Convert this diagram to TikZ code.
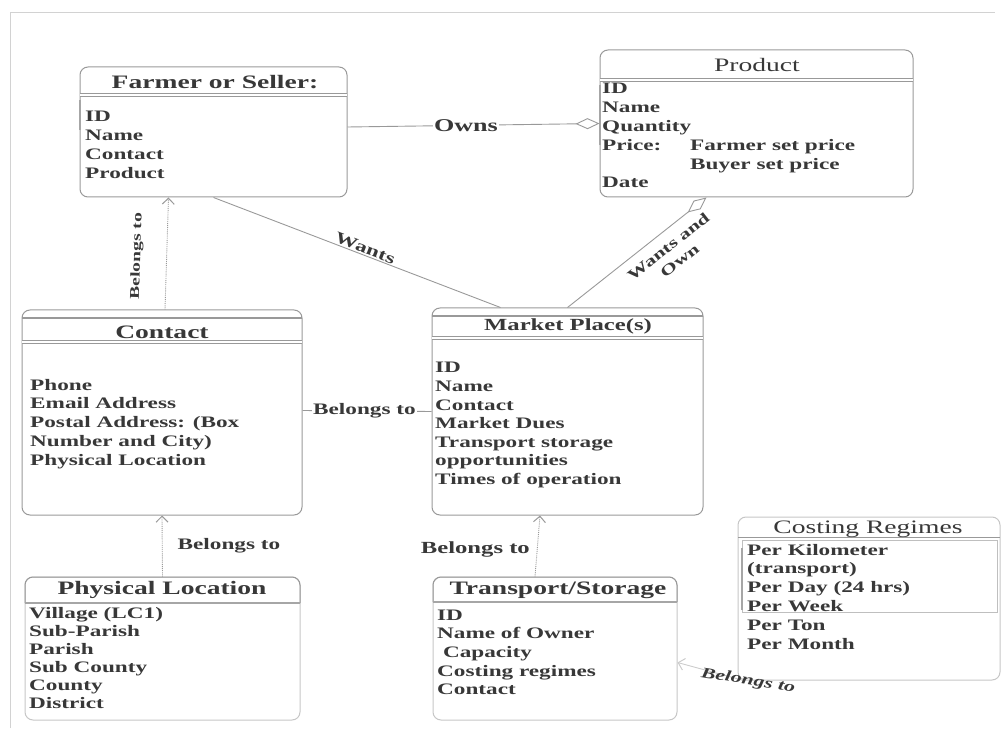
\documentclass[tikz,border=0pt]{standalone}
\usepackage{fontspec}
\setmainfont{Liberation Serif}[FakeStretch=1.45]
\usetikzlibrary{arrows.meta}
\definecolor{ink}{gray}{0.22}
\definecolor{edge}{gray}{0.6}
\begin{document}
\begin{tikzpicture}[x=1pt,y=-1pt,
  entity/.style={draw=edge, line width=1pt, rounded corners=8pt, rectangle, inner sep=0pt},
  ttl/.style={font=\bfseries\fontsize{19}{22}\selectfont, text=ink, inner sep=0pt},
  attr/.style={font=\bfseries\fontsize{16}{19}\selectfont, text=ink, anchor=base west, inner sep=0pt},
  sep/.style={draw=edge, double, double distance=2.5pt, line width=0.7pt},
  bar/.style={draw=gray!70, line width=2pt},
  rel/.style={draw=edge, line width=0.9pt},
  weak/.style={draw=edge, line width=0.9pt, densely dotted},
  lbl/.style={font=\bfseries\fontsize{16}{19}\selectfont, text=ink, inner sep=1pt},
  owner/.style={-{Diamond[open, length=24pt, width=11pt, line width=0.9pt]}},
  many/.style={-{Straight Barb[length=6pt, width=12pt, line width=1pt]}},
]
\useasboundingbox (0,0) rectangle (1005,730);
% page frame
\draw[gray!35, line width=0.8pt] (10,728) -- (10,12) -- (995,12);

% ---------------- entities ----------------
\node[entity, minimum width=267, minimum height=130] (farmer) at (213.5,132) {};
\node[entity, minimum width=313, minimum height=147] (product) at (756.5,123.5) {};
\node[entity, minimum width=280, minimum height=205] (contact) at (162,412.5) {};
\node[entity, minimum width=271, minimum height=207] (market) at (567.5,411.5) {};
\node[entity, draw=gray!45, minimum width=275, minimum height=143] (physical) at (162.5,648.5) {};
\node[entity, draw=gray!45, minimum width=244, minimum height=143] (transport) at (555,648.5) {};
\node[entity, draw=gray!45, minimum width=262, minimum height=163] (costing) at (869,598.5) {};

% title separators
\draw[sep] (80,95) -- (347,95);
\draw[sep] (600,80) -- (913,80);
\draw[edge, line width=1.2pt] (22,318) -- (302,318);
\draw[sep] (22,342) -- (302,342);
\draw[edge, line width=1.2pt] (432,316) -- (703,316);
\draw[sep] (432,338) -- (703,338);
\draw[edge, line width=1pt, rounded corners=8pt] (25,603) -- (25,577) -- (300,577) -- (300,603);
\draw[bar] (25,603) -- (300,603);
\draw[edge, line width=1pt, rounded corners=8pt] (433,602) -- (433,577) -- (677,577) -- (677,602);
\draw[bar] (433,602) -- (677,602);
\draw[edge, line width=1pt] (738,537) -- (1000,537);
\draw[gray!50, line width=0.8pt] (742,540) rectangle (997,612);
\draw[bar] (80,100) -- (80,130);
\draw[bar] (600,85) -- (600,145);
\draw[bar] (742,548) -- (742,610);

% ---------------- titles ----------------
\node[ttl] (farmer-t) at (215,82) {Farmer or Seller:};
\node[ttl, font=\fontsize{19}{22}\selectfont] (product-t) at (757,65) {Product};
\node[ttl] (contact-t) at (162,332) {Contact};
\node[ttl, font=\bfseries\fontsize{17}{20}\selectfont] (market-t) at (568,326) {Market Place(s)};
\node[ttl] (physical-t) at (162,590) {Physical Location};
\node[ttl] (transport-t) at (558,590) {Transport/Storage};
\node[ttl, font=\fontsize{19}{22}\selectfont] (costing-t) at (868,529) {Costing Regimes};

% ---------------- attributes ----------------
\foreach \t [count=\i from 0] in {{ID},{Name},{Contact},{Product}}
  \node[attr] (farmer-a\i) at (85,122+18.7*\i) {\t};
\foreach \t [count=\i from 0] in {{ID},{Name},{Quantity},{Price:},{},{Date}}
  \node[attr] (product-a\i) at (602,94+18.8*\i) {\t};
\node[attr] (product-p1) at (690,150.4) {Farmer set price};
\node[attr] (product-p2) at (690,169.2) {Buyer set price};
\foreach \t [count=\i from 0] in {{Phone},{Email Address},{Postal Address: (Box},{Number and City)},{Physical Location}}
  \node[attr] (contact-a\i) at (30,390+18.8*\i) {\t};
\foreach \t [count=\i from 0] in {{ID},{Name},{Contact},{Market Dues},{Transport storage},{opportunities},{Times of operation}}
  \node[attr] (market-a\i) at (435,373+18.5*\i) {\t};
\foreach \t [count=\i from 0] in {{Village (LC1)},{Sub-Parish},{Parish},{Sub County},{County},{District}}
  \node[attr] (physical-a\i) at (29,618+18*\i) {\t};
\foreach \t [count=\i from 0] in {{ID},{Name of Owner},{\ Capacity},{Costing regimes},{Contact}}
  \node[attr] (transport-a\i) at (437,620+18.7*\i) {\t};
\foreach \t [count=\i from 0] in {{Per Kilometer},{(transport)},{Per Day (24 hrs)},{Per Week},{Per Ton},{Per Month}}
  \node[attr] (costing-a\i) at (747,555+18.8*\i) {\t};

% ---------------- relationships ----------------
\draw[rel, owner] ([yshift=5pt]farmer.east) -- (product.west)
  node[lbl, pos=0.47, fill=white, font=\bfseries\fontsize{18}{20}\selectfont] (owns) {Owns};
\draw[rel] (farmer.south) -- ([xshift=-67pt]market.north)
  node[lbl, pos=0.52, sloped, above=0pt] (wants) {Wants};
\draw[rel, owner] (market.north) -- ([xshift=-50pt]product.south)
  node[lbl, pos=0.66, sloped, below=8pt, align=center, font=\bfseries\fontsize{15}{18}\selectfont] (wantsown) {Wants and\\Own};
\draw[weak, many] ([xshift=3pt]contact.north) -- ([xshift=-45pt]farmer.south)
  node[lbl, pos=0.47, sloped, above=22pt, font=\bfseries\fontsize{13.5}{15}\selectfont] (bel1) {Belongs to};
\draw[rel] ([yshift=2pt]contact.east) -- (market.west)
  node[lbl, pos=0.48, fill=white] (bel2) {Belongs to};
\draw[weak, many] (physical.north) -- (contact.south)
  node[lbl, pos=0.5, right=14pt] (bel3) {Belongs to};
\draw[weak, many] ([xshift=-20pt]transport.north) -- ([xshift=-27.5pt]market.south)
  node[lbl, pos=0.45, left=6pt, font=\bfseries\fontsize{17}{19}\selectfont] (bel4) {Belongs to};
\draw[rel, draw=gray!40, many] ([xshift=6pt]costing.south west) -- ([yshift=-14pt]transport.east);
\node[lbl, rotate=-9, font=\bfseries\itshape\fontsize{15}{17}\selectfont] (bel5) at (748,681) {Belongs to};
\end{tikzpicture}
\end{document}
